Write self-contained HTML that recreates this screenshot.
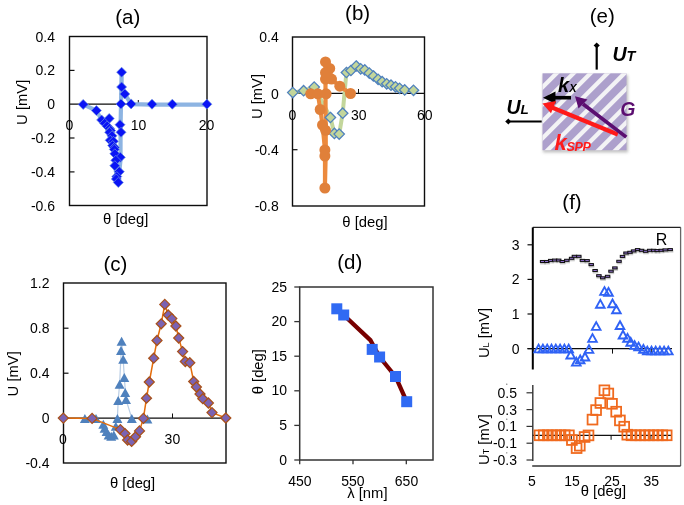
<!DOCTYPE html>
<html><head><meta charset="utf-8"><style>
html,body{margin:0;padding:0;background:#fff;}
svg{display:block;font-family:"Liberation Sans", sans-serif;}
text{opacity:0.999;}
</style></head><body>
<svg width="684" height="505" viewBox="0 0 684 505">
<rect width="684" height="505" fill="#fff"/>
<text x="127.7" y="23.5" font-size="20.5" text-anchor="middle" fill="#000">(a)</text>
<rect x="69.5" y="36.5" width="137.5" height="169" fill="none" stroke="#0d0d0d" stroke-width="1.4"/>
<line x1="69.5" y1="104.2" x2="207" y2="104.2" stroke="#0d0d0d" stroke-width="1.3"/>
<line x1="69.5" y1="70.4" x2="74.5" y2="70.4" stroke="#0d0d0d" stroke-width="1.2"/>
<line x1="69.5" y1="138" x2="74.5" y2="138" stroke="#0d0d0d" stroke-width="1.2"/>
<line x1="69.5" y1="171.9" x2="74.5" y2="171.9" stroke="#0d0d0d" stroke-width="1.2"/>
<line x1="138.3" y1="100" x2="138.3" y2="104.2" stroke="#0d0d0d" stroke-width="1"/>
<text x="55" y="41.5" font-size="14" text-anchor="end" fill="#000">0.4</text>
<text x="55" y="75.3" font-size="14" text-anchor="end" fill="#000">0.2</text>
<text x="55" y="109.1" font-size="14" text-anchor="end" fill="#000">0</text>
<text x="55" y="142.9" font-size="14" text-anchor="end" fill="#000">-0.2</text>
<text x="55" y="176.7" font-size="14" text-anchor="end" fill="#000">-0.4</text>
<text x="55" y="210.5" font-size="14" text-anchor="end" fill="#000">-0.6</text>
<text x="69.5" y="130" font-size="14" text-anchor="middle" fill="#000">0</text>
<text x="138.5" y="130" font-size="14" text-anchor="middle" fill="#000">10</text>
<text x="206.5" y="130" font-size="14" text-anchor="middle" fill="#000">20</text>
<text x="0" y="0" font-size="14.8" text-anchor="middle" dominant-baseline="central" transform="translate(21.8,102.3) rotate(-90)">U [mV]</text>
<text x="125.7" y="224" font-size="14.8" text-anchor="middle" fill="#000">θ [deg]</text>
<polyline points="83.2,104.4 96.4,110.6 101.6,119.9 104.7,123.3 107.1,126.1 109.6,128.5 110.6,130.6 112,135.8 113.4,141.3 114.3,149.4 114.8,153.8 115.8,160.3 114.8,165.7 116.8,176.6 118.3,182.5" fill="none" stroke="#8db4e2" stroke-width="4" stroke-linejoin="round" stroke-linecap="round" />
<polyline points="118.3,182.5 119.3,171.7 120.5,160 120.6,124.7 121,104 121.6,72.2 121.6,87 124.8,94 131.1,104.2 152,104.6 172.3,104.6 206.9,104.6" fill="none" stroke="#8db4e2" stroke-width="4.2" stroke-linejoin="round" stroke-linecap="round" />
<path d="M83.2 99.4L88.2 104.4L83.2 109.4L78.2 104.4Z" fill="#0a14f5" stroke="#6d8fe0" stroke-width="0.7"/>
<path d="M96.4 105.6L101.4 110.6L96.4 115.6L91.4 110.6Z" fill="#0a14f5" stroke="#6d8fe0" stroke-width="0.7"/>
<path d="M101.6 114.9L106.6 119.9L101.6 124.9L96.6 119.9Z" fill="#0a14f5" stroke="#6d8fe0" stroke-width="0.7"/>
<path d="M109.2 113.5L114.2 118.5L109.2 123.5L104.2 118.5Z" fill="#0a14f5" stroke="#6d8fe0" stroke-width="0.7"/>
<path d="M104.7 118.3L109.7 123.3L104.7 128.3L99.7 123.3Z" fill="#0a14f5" stroke="#6d8fe0" stroke-width="0.7"/>
<path d="M107.1 121.1L112.1 126.1L107.1 131.1L102.1 126.1Z" fill="#0a14f5" stroke="#6d8fe0" stroke-width="0.7"/>
<path d="M120 119.7L125 124.7L120 129.7L115 124.7Z" fill="#0a14f5" stroke="#6d8fe0" stroke-width="0.7"/>
<path d="M109.6 123.5L114.6 128.5L109.6 133.5L104.6 128.5Z" fill="#0a14f5" stroke="#6d8fe0" stroke-width="0.7"/>
<path d="M110.6 125.6L115.6 130.6L110.6 135.6L105.6 130.6Z" fill="#0a14f5" stroke="#6d8fe0" stroke-width="0.7"/>
<path d="M121 127.3L126 132.3L121 137.3L116 132.3Z" fill="#0a14f5" stroke="#6d8fe0" stroke-width="0.7"/>
<path d="M109.6 127.3L114.6 132.3L109.6 137.3L104.6 132.3Z" fill="#0a14f5" stroke="#6d8fe0" stroke-width="0.7"/>
<path d="M112 130.8L117 135.8L112 140.8L107 135.8Z" fill="#0a14f5" stroke="#6d8fe0" stroke-width="0.7"/>
<path d="M110.2 135.3L115.2 140.3L110.2 145.3L105.2 140.3Z" fill="#0a14f5" stroke="#6d8fe0" stroke-width="0.7"/>
<path d="M113.4 136.3L118.4 141.3L113.4 146.3L108.4 141.3Z" fill="#0a14f5" stroke="#6d8fe0" stroke-width="0.7"/>
<path d="M112.7 140.5L117.7 145.5L112.7 150.5L107.7 145.5Z" fill="#0a14f5" stroke="#6d8fe0" stroke-width="0.7"/>
<path d="M114.4 142.6L119.4 147.6L114.4 152.6L109.4 147.6Z" fill="#0a14f5" stroke="#6d8fe0" stroke-width="0.7"/>
<path d="M114.3 144.4L119.3 149.4L114.3 154.4L109.3 149.4Z" fill="#0a14f5" stroke="#6d8fe0" stroke-width="0.7"/>
<path d="M114.8 148.8L119.8 153.8L114.8 158.8L109.8 153.8Z" fill="#0a14f5" stroke="#6d8fe0" stroke-width="0.7"/>
<path d="M120.3 152.3L125.3 157.3L120.3 162.3L115.3 157.3Z" fill="#0a14f5" stroke="#6d8fe0" stroke-width="0.7"/>
<path d="M115.8 155.3L120.8 160.3L115.8 165.3L110.8 160.3Z" fill="#0a14f5" stroke="#6d8fe0" stroke-width="0.7"/>
<path d="M114.8 160.7L119.8 165.7L114.8 170.7L109.8 165.7Z" fill="#0a14f5" stroke="#6d8fe0" stroke-width="0.7"/>
<path d="M119.3 166.7L124.3 171.7L119.3 176.7L114.3 171.7Z" fill="#0a14f5" stroke="#6d8fe0" stroke-width="0.7"/>
<path d="M116.8 171.6L121.8 176.6L116.8 181.6L111.8 176.6Z" fill="#0a14f5" stroke="#6d8fe0" stroke-width="0.7"/>
<path d="M116.3 174L121.3 179L116.3 184L111.3 179Z" fill="#0a14f5" stroke="#6d8fe0" stroke-width="0.7"/>
<path d="M118.3 177.5L123.3 182.5L118.3 187.5L113.3 182.5Z" fill="#0a14f5" stroke="#6d8fe0" stroke-width="0.7"/>
<path d="M121.6 67.2L126.6 72.2L121.6 77.2L116.6 72.2Z" fill="#0a14f5" stroke="#6d8fe0" stroke-width="0.7"/>
<path d="M121.6 82L126.6 87L121.6 92L116.6 87Z" fill="#0a14f5" stroke="#6d8fe0" stroke-width="0.7"/>
<path d="M124.8 89L129.8 94L124.8 99L119.8 94Z" fill="#0a14f5" stroke="#6d8fe0" stroke-width="0.7"/>
<path d="M120.9 98.9L125.9 103.9L120.9 108.9L115.9 103.9Z" fill="#0a14f5" stroke="#6d8fe0" stroke-width="0.7"/>
<path d="M131.1 98.9L136.1 103.9L131.1 108.9L126.1 103.9Z" fill="#0a14f5" stroke="#6d8fe0" stroke-width="0.7"/>
<path d="M152 99.2L157 104.2L152 109.2L147 104.2Z" fill="#0a14f5" stroke="#6d8fe0" stroke-width="0.7"/>
<path d="M172.3 99.2L177.3 104.2L172.3 109.2L167.3 104.2Z" fill="#0a14f5" stroke="#6d8fe0" stroke-width="0.7"/>
<path d="M206.9 99.2L211.9 104.2L206.9 109.2L201.9 104.2Z" fill="#0a14f5" stroke="#6d8fe0" stroke-width="0.7"/>
<text x="357.6" y="19.5" font-size="20.5" text-anchor="middle" fill="#000">(b)</text>
<rect x="292.5" y="37" width="132" height="169" fill="none" stroke="#0d0d0d" stroke-width="1.4"/>
<line x1="292.5" y1="93.4" x2="424.5" y2="93.4" stroke="#0d0d0d" stroke-width="1.3"/>
<line x1="358.5" y1="89" x2="358.5" y2="93.4" stroke="#0d0d0d" stroke-width="1"/>
<line x1="292.5" y1="149.7" x2="297.5" y2="149.7" stroke="#0d0d0d" stroke-width="1.2"/>
<text x="278.8" y="42.3" font-size="14" text-anchor="end" fill="#000">0.4</text>
<text x="278.8" y="98.63" font-size="14" text-anchor="end" fill="#000">0</text>
<text x="278.8" y="154.96" font-size="14" text-anchor="end" fill="#000">-0.4</text>
<text x="278.8" y="211.29" font-size="14" text-anchor="end" fill="#000">-0.8</text>
<text x="292.5" y="119.6" font-size="14" text-anchor="middle" fill="#000">0</text>
<text x="358.8" y="119.6" font-size="14" text-anchor="middle" fill="#000">30</text>
<text x="424.8" y="119.6" font-size="14" text-anchor="middle" fill="#000">60</text>
<text x="0" y="0" font-size="14.8" text-anchor="middle" dominant-baseline="central" transform="translate(257.3,96.5) rotate(-90)">U [mV]</text>
<text x="365" y="226.5" font-size="14.8" text-anchor="middle" fill="#000">θ [deg]</text>
<polyline points="292.8,92.6 303.6,90.7 314.2,87.1 330.4,117.5 334.4,133.4 339.2,134.1 342.7,113.2 346.4,72.5 350.9,70.5 356.2,66 360.7,68.8 364.8,69.9 369.3,73.1 373.4,76 378.1,79.3 382.2,81.7 386.7,83.8 391,85.2 395.5,86.8 399.6,88.3 404.7,89.9 413.5,90.3" fill="none" stroke="#c3d69b" stroke-width="4" stroke-linejoin="round" stroke-linecap="round" />
<polyline points="310.7,93.8 326.1,93.8" fill="none" stroke="#ec8a3e" stroke-width="4" stroke-linejoin="round" stroke-linecap="round" />
<polyline points="317.8,93.8 320.2,109.5 322.5,125 324.9,150 324.9,188" fill="none" stroke="#ec8a3e" stroke-width="4" stroke-linejoin="round" stroke-linecap="round" />
<polyline points="324.9,188 325.8,150 325.5,93.8 325.5,61.9 329.7,68.4 331.5,79.1 339.8,86.2 350.5,93.5" fill="none" stroke="#ec8a3e" stroke-width="4.2" stroke-linejoin="round" stroke-linecap="round" />
<path d="M292.8 87.4L298.0 92.6L292.8 97.8L287.6 92.6Z" fill="#c3d69b" stroke="#4f81bd" stroke-width="1.3"/>
<path d="M303.6 85.5L308.8 90.7L303.6 95.9L298.4 90.7Z" fill="#c3d69b" stroke="#4f81bd" stroke-width="1.3"/>
<path d="M314.2 81.9L319.4 87.1L314.2 92.3L309.0 87.1Z" fill="#c3d69b" stroke="#4f81bd" stroke-width="1.3"/>
<path d="M330.4 112.3L335.6 117.5L330.4 122.7L325.2 117.5Z" fill="#c3d69b" stroke="#4f81bd" stroke-width="1.3"/>
<path d="M334.4 128.2L339.6 133.4L334.4 138.6L329.2 133.4Z" fill="#c3d69b" stroke="#4f81bd" stroke-width="1.3"/>
<path d="M339.2 128.9L344.4 134.1L339.2 139.3L334.0 134.1Z" fill="#c3d69b" stroke="#4f81bd" stroke-width="1.3"/>
<path d="M342.7 108.0L347.9 113.2L342.7 118.4L337.5 113.2Z" fill="#c3d69b" stroke="#4f81bd" stroke-width="1.3"/>
<path d="M346.4 67.3L351.6 72.5L346.4 77.7L341.2 72.5Z" fill="#c3d69b" stroke="#4f81bd" stroke-width="1.3"/>
<path d="M350.9 65.3L356.1 70.5L350.9 75.7L345.7 70.5Z" fill="#c3d69b" stroke="#4f81bd" stroke-width="1.3"/>
<path d="M356.2 60.8L361.4 66L356.2 71.2L351.0 66Z" fill="#c3d69b" stroke="#4f81bd" stroke-width="1.3"/>
<path d="M360.7 63.6L365.9 68.8L360.7 74.0L355.5 68.8Z" fill="#c3d69b" stroke="#4f81bd" stroke-width="1.3"/>
<path d="M364.8 64.7L370.0 69.9L364.8 75.1L359.6 69.9Z" fill="#c3d69b" stroke="#4f81bd" stroke-width="1.3"/>
<path d="M369.3 67.9L374.5 73.1L369.3 78.3L364.1 73.1Z" fill="#c3d69b" stroke="#4f81bd" stroke-width="1.3"/>
<path d="M373.4 70.8L378.6 76L373.4 81.2L368.2 76Z" fill="#c3d69b" stroke="#4f81bd" stroke-width="1.3"/>
<path d="M378.1 74.1L383.3 79.3L378.1 84.5L372.9 79.3Z" fill="#c3d69b" stroke="#4f81bd" stroke-width="1.3"/>
<path d="M382.2 76.5L387.4 81.7L382.2 86.9L377.0 81.7Z" fill="#c3d69b" stroke="#4f81bd" stroke-width="1.3"/>
<path d="M386.7 78.6L391.9 83.8L386.7 89.0L381.5 83.8Z" fill="#c3d69b" stroke="#4f81bd" stroke-width="1.3"/>
<path d="M391 80.0L396.2 85.2L391 90.4L385.8 85.2Z" fill="#c3d69b" stroke="#4f81bd" stroke-width="1.3"/>
<path d="M395.5 81.6L400.7 86.8L395.5 92.0L390.3 86.8Z" fill="#c3d69b" stroke="#4f81bd" stroke-width="1.3"/>
<path d="M399.6 83.1L404.8 88.3L399.6 93.5L394.4 88.3Z" fill="#c3d69b" stroke="#4f81bd" stroke-width="1.3"/>
<path d="M404.7 84.7L409.9 89.9L404.7 95.1L399.5 89.9Z" fill="#c3d69b" stroke="#4f81bd" stroke-width="1.3"/>
<path d="M413.5 85.1L418.7 90.3L413.5 95.5L408.3 90.3Z" fill="#c3d69b" stroke="#4f81bd" stroke-width="1.3"/>
<circle cx="310.7" cy="93.8" r="5.5" fill="#e0803a"/>
<circle cx="317.8" cy="93.8" r="5.5" fill="#e0803a"/>
<circle cx="326.1" cy="93.8" r="5.5" fill="#e0803a"/>
<circle cx="320.2" cy="109.5" r="5.5" fill="#e0803a"/>
<circle cx="322.5" cy="125" r="5.5" fill="#e0803a"/>
<circle cx="325.6" cy="130.3" r="5.5" fill="#e0803a"/>
<circle cx="324.9" cy="150" r="5.5" fill="#e0803a"/>
<circle cx="324.9" cy="156" r="5.5" fill="#e0803a"/>
<circle cx="324.9" cy="188" r="5.5" fill="#e0803a"/>
<circle cx="325.5" cy="79.1" r="5.5" fill="#e0803a"/>
<circle cx="331.5" cy="79.1" r="5.5" fill="#e0803a"/>
<circle cx="329.7" cy="68.4" r="5.5" fill="#e0803a"/>
<circle cx="325.5" cy="72.6" r="5.5" fill="#e0803a"/>
<circle cx="325.5" cy="61.9" r="5.5" fill="#e0803a"/>
<circle cx="339.8" cy="86.2" r="5.5" fill="#e0803a"/>
<circle cx="350.5" cy="93.5" r="5.5" fill="#e0803a"/>
<text x="115.5" y="271" font-size="20.5" text-anchor="middle" fill="#000">(c)</text>
<rect x="63.5" y="283" width="162.5" height="180" fill="none" stroke="#0d0d0d" stroke-width="1.4"/>
<line x1="63.5" y1="418.2" x2="226" y2="418.2" stroke="#0d0d0d" stroke-width="1.3"/>
<line x1="63.5" y1="328.2" x2="68.5" y2="328.2" stroke="#0d0d0d" stroke-width="1.2"/>
<line x1="63.5" y1="373.2" x2="68.5" y2="373.2" stroke="#0d0d0d" stroke-width="1.2"/>
<line x1="172.5" y1="413.5" x2="172.5" y2="418.2" stroke="#0d0d0d" stroke-width="1"/>
<text x="49.5" y="288" font-size="14" text-anchor="end" fill="#000">1.2</text>
<text x="49.5" y="333" font-size="14" text-anchor="end" fill="#000">0.8</text>
<text x="49.5" y="378" font-size="14" text-anchor="end" fill="#000">0.4</text>
<text x="49.5" y="423" font-size="14" text-anchor="end" fill="#000">0</text>
<text x="49.5" y="468" font-size="14" text-anchor="end" fill="#000">-0.4</text>
<text x="63" y="444.3" font-size="14" text-anchor="middle" fill="#000">0</text>
<text x="172.4" y="444.3" font-size="14" text-anchor="middle" fill="#000">30</text>
<text x="0" y="0" font-size="14.8" text-anchor="middle" dominant-baseline="central" transform="translate(13.3,373.8) rotate(-90)">U [mV]</text>
<text x="132.6" y="487.5" font-size="14.8" text-anchor="middle" fill="#000">θ [deg]</text>
<polyline points="117.4,418.4 118.2,400.4 119.6,384.3 121.6,341.3 123.2,359.3 124.3,377.4 126,399.5 131.8,418.4" fill="none" stroke="#b9cde5" stroke-width="1.2" stroke-linejoin="round" stroke-linecap="round" />
<path d="M84.9 413.9L89.9 422.9L79.9 422.9Z" fill="#4f81bd" stroke="none" stroke-width="0" stroke-linejoin="miter"/>
<path d="M96 413.9L101.0 422.9L91.0 422.9Z" fill="#4f81bd" stroke="none" stroke-width="0" stroke-linejoin="miter"/>
<path d="M103.3 419.8L108.3 428.8L98.3 428.8Z" fill="#4f81bd" stroke="none" stroke-width="0" stroke-linejoin="miter"/>
<path d="M104.6 423.8L109.6 432.8L99.6 432.8Z" fill="#4f81bd" stroke="none" stroke-width="0" stroke-linejoin="miter"/>
<path d="M106.6 427.1L111.6 436.1L101.6 436.1Z" fill="#4f81bd" stroke="none" stroke-width="0" stroke-linejoin="miter"/>
<path d="M108.6 430.4L113.6 439.4L103.6 439.4Z" fill="#4f81bd" stroke="none" stroke-width="0" stroke-linejoin="miter"/>
<path d="M111.2 431.7L116.2 440.7L106.2 440.7Z" fill="#4f81bd" stroke="none" stroke-width="0" stroke-linejoin="miter"/>
<path d="M113.8 430.4L118.8 439.4L108.8 439.4Z" fill="#4f81bd" stroke="none" stroke-width="0" stroke-linejoin="miter"/>
<path d="M115.8 421.8L120.8 430.8L110.8 430.8Z" fill="#4f81bd" stroke="none" stroke-width="0" stroke-linejoin="miter"/>
<path d="M117.4 413.9L122.4 422.9L112.4 422.9Z" fill="#4f81bd" stroke="none" stroke-width="0" stroke-linejoin="miter"/>
<path d="M118.2 395.9L123.2 404.9L113.2 404.9Z" fill="#4f81bd" stroke="none" stroke-width="0" stroke-linejoin="miter"/>
<path d="M119.6 379.8L124.6 388.8L114.6 388.8Z" fill="#4f81bd" stroke="none" stroke-width="0" stroke-linejoin="miter"/>
<path d="M121.6 336.8L126.6 345.8L116.6 345.8Z" fill="#4f81bd" stroke="none" stroke-width="0" stroke-linejoin="miter"/>
<path d="M121 346.0L126.0 355.0L116.0 355.0Z" fill="#4f81bd" stroke="none" stroke-width="0" stroke-linejoin="miter"/>
<path d="M123.2 354.8L128.2 363.8L118.2 363.8Z" fill="#4f81bd" stroke="none" stroke-width="0" stroke-linejoin="miter"/>
<path d="M124.3 372.9L129.3 381.9L119.3 381.9Z" fill="#4f81bd" stroke="none" stroke-width="0" stroke-linejoin="miter"/>
<path d="M125.2 388.1L130.2 397.1L120.2 397.1Z" fill="#4f81bd" stroke="none" stroke-width="0" stroke-linejoin="miter"/>
<path d="M126 395.0L131.0 404.0L121.0 404.0Z" fill="#4f81bd" stroke="none" stroke-width="0" stroke-linejoin="miter"/>
<path d="M131.8 413.9L136.8 422.9L126.8 422.9Z" fill="#4f81bd" stroke="none" stroke-width="0" stroke-linejoin="miter"/>
<path d="M147.4 414.5L152.4 423.5L142.4 423.5Z" fill="#4f81bd" stroke="none" stroke-width="0" stroke-linejoin="miter"/>
<polyline points="63.3,418.1 92.1,418.4 120.4,429.6 125,433.6 127.6,440 131.6,441.4 135.5,436.8 139.5,430.9 143.4,418.4 146.5,398.2 149.3,382 153.7,358.2 157,340.5 161.2,323.8 164.8,304.4 168.2,315 171.8,318.6 175.9,326 178.7,338 182.6,351.6 185.3,361.5 189.8,362.7 193.7,381.5 196.4,387 200,394 202.8,398.7 208.4,403 212,412.6 225.8,418" fill="none" stroke="#e46c0a" stroke-width="1.5" stroke-linejoin="round" stroke-linecap="round" />
<path d="M63.3 413.1L68.3 418.1L63.3 423.1L58.3 418.1Z" fill="#7b63b3" stroke="#a8501a" stroke-width="1.25"/>
<path d="M92.1 413.4L97.1 418.4L92.1 423.4L87.1 418.4Z" fill="#7b63b3" stroke="#a8501a" stroke-width="1.25"/>
<path d="M120.4 424.6L125.4 429.6L120.4 434.6L115.4 429.6Z" fill="#7b63b3" stroke="#a8501a" stroke-width="1.25"/>
<path d="M125 428.6L130.0 433.6L125 438.6L120.0 433.6Z" fill="#7b63b3" stroke="#a8501a" stroke-width="1.25"/>
<path d="M127.6 435.0L132.6 440L127.6 445.0L122.6 440Z" fill="#7b63b3" stroke="#a8501a" stroke-width="1.25"/>
<path d="M131.6 436.4L136.6 441.4L131.6 446.4L126.6 441.4Z" fill="#7b63b3" stroke="#a8501a" stroke-width="1.25"/>
<path d="M135.5 431.8L140.5 436.8L135.5 441.8L130.5 436.8Z" fill="#7b63b3" stroke="#a8501a" stroke-width="1.25"/>
<path d="M139.5 425.9L144.5 430.9L139.5 435.9L134.5 430.9Z" fill="#7b63b3" stroke="#a8501a" stroke-width="1.25"/>
<path d="M143.4 413.4L148.4 418.4L143.4 423.4L138.4 418.4Z" fill="#7b63b3" stroke="#a8501a" stroke-width="1.25"/>
<path d="M146.5 393.2L151.5 398.2L146.5 403.2L141.5 398.2Z" fill="#7b63b3" stroke="#a8501a" stroke-width="1.25"/>
<path d="M149.3 377.0L154.3 382L149.3 387.0L144.3 382Z" fill="#7b63b3" stroke="#a8501a" stroke-width="1.25"/>
<path d="M153.7 353.2L158.7 358.2L153.7 363.2L148.7 358.2Z" fill="#7b63b3" stroke="#a8501a" stroke-width="1.25"/>
<path d="M157 335.5L162.0 340.5L157 345.5L152.0 340.5Z" fill="#7b63b3" stroke="#a8501a" stroke-width="1.25"/>
<path d="M161.2 318.8L166.2 323.8L161.2 328.8L156.2 323.8Z" fill="#7b63b3" stroke="#a8501a" stroke-width="1.25"/>
<path d="M164.8 299.4L169.8 304.4L164.8 309.4L159.8 304.4Z" fill="#7b63b3" stroke="#a8501a" stroke-width="1.25"/>
<path d="M168.2 310.0L173.2 315L168.2 320.0L163.2 315Z" fill="#7b63b3" stroke="#a8501a" stroke-width="1.25"/>
<path d="M171.8 313.6L176.8 318.6L171.8 323.6L166.8 318.6Z" fill="#7b63b3" stroke="#a8501a" stroke-width="1.25"/>
<path d="M175.9 321.0L180.9 326L175.9 331.0L170.9 326Z" fill="#7b63b3" stroke="#a8501a" stroke-width="1.25"/>
<path d="M178.7 333.0L183.7 338L178.7 343.0L173.7 338Z" fill="#7b63b3" stroke="#a8501a" stroke-width="1.25"/>
<path d="M182.6 346.6L187.6 351.6L182.6 356.6L177.6 351.6Z" fill="#7b63b3" stroke="#a8501a" stroke-width="1.25"/>
<path d="M185.3 356.5L190.3 361.5L185.3 366.5L180.3 361.5Z" fill="#7b63b3" stroke="#a8501a" stroke-width="1.25"/>
<path d="M189.8 357.7L194.8 362.7L189.8 367.7L184.8 362.7Z" fill="#7b63b3" stroke="#a8501a" stroke-width="1.25"/>
<path d="M193.7 376.5L198.7 381.5L193.7 386.5L188.7 381.5Z" fill="#7b63b3" stroke="#a8501a" stroke-width="1.25"/>
<path d="M196.4 382.0L201.4 387L196.4 392.0L191.4 387Z" fill="#7b63b3" stroke="#a8501a" stroke-width="1.25"/>
<path d="M200 389.0L205.0 394L200 399.0L195.0 394Z" fill="#7b63b3" stroke="#a8501a" stroke-width="1.25"/>
<path d="M202.8 393.7L207.8 398.7L202.8 403.7L197.8 398.7Z" fill="#7b63b3" stroke="#a8501a" stroke-width="1.25"/>
<path d="M208.4 398.0L213.4 403L208.4 408.0L203.4 403Z" fill="#7b63b3" stroke="#a8501a" stroke-width="1.25"/>
<path d="M212 407.6L217.0 412.6L212 417.6L207.0 412.6Z" fill="#7b63b3" stroke="#a8501a" stroke-width="1.25"/>
<path d="M225.8 413.0L230.8 418L225.8 423.0L220.8 418Z" fill="#7b63b3" stroke="#a8501a" stroke-width="1.25"/>
<text x="349.8" y="269.2" font-size="20.5" text-anchor="middle" fill="#000">(d)</text>
<rect x="299.7" y="287" width="133.3" height="173" fill="none" stroke="#333" stroke-width="1.5"/>
<line x1="294.3" y1="460.0" x2="299.7" y2="460.0" stroke="#333" stroke-width="1.3"/>
<line x1="294.3" y1="425.4" x2="299.7" y2="425.4" stroke="#333" stroke-width="1.3"/>
<line x1="294.3" y1="390.8" x2="299.7" y2="390.8" stroke="#333" stroke-width="1.3"/>
<line x1="294.3" y1="356.2" x2="299.7" y2="356.2" stroke="#333" stroke-width="1.3"/>
<line x1="294.3" y1="321.6" x2="299.7" y2="321.6" stroke="#333" stroke-width="1.3"/>
<line x1="294.3" y1="287.0" x2="299.7" y2="287.0" stroke="#333" stroke-width="1.3"/>
<line x1="299.7" y1="460" x2="299.7" y2="464.3" stroke="#333" stroke-width="1.3"/>
<line x1="353" y1="460" x2="353" y2="464.3" stroke="#333" stroke-width="1.3"/>
<line x1="406.3" y1="460" x2="406.3" y2="464.3" stroke="#333" stroke-width="1.3"/>
<text x="287" y="464.6" font-size="14" text-anchor="end" fill="#000">0</text>
<text x="287" y="430.0" font-size="14" text-anchor="end" fill="#000">5</text>
<text x="287" y="395.4" font-size="14" text-anchor="end" fill="#000">10</text>
<text x="287" y="360.8" font-size="14" text-anchor="end" fill="#000">15</text>
<text x="287" y="326.2" font-size="14" text-anchor="end" fill="#000">20</text>
<text x="287" y="291.6" font-size="14" text-anchor="end" fill="#000">25</text>
<text x="299.9" y="485.8" font-size="14" text-anchor="middle" fill="#000">450</text>
<text x="352.9" y="485.8" font-size="14" text-anchor="middle" fill="#000">550</text>
<text x="406.5" y="485.8" font-size="14" text-anchor="middle" fill="#000">650</text>
<text x="0" y="0" font-size="14.8" text-anchor="middle" dominant-baseline="central" transform="translate(258,371.7) rotate(-90)">θ [deg]</text>
<text x="367.4" y="498.2" font-size="14.8" text-anchor="middle" fill="#000">λ [nm]</text>
<polyline points="343.7,315 370.6,340.4 379.6,357 395.5,376.5 406.7,401.7" fill="none" stroke="#780000" stroke-width="4.3" stroke-linejoin="round" stroke-linecap="round" />
<rect x="331.3" y="303.3" width="11" height="11" fill="#306af3" stroke="none" stroke-width="0"/>
<rect x="338.2" y="309.5" width="11" height="11" fill="#306af3" stroke="none" stroke-width="0"/>
<rect x="366.7" y="343.9" width="11" height="11" fill="#306af3" stroke="none" stroke-width="0"/>
<rect x="374.1" y="351.5" width="11" height="11" fill="#306af3" stroke="none" stroke-width="0"/>
<rect x="390.0" y="371.0" width="11" height="11" fill="#306af3" stroke="none" stroke-width="0"/>
<rect x="401.2" y="396.2" width="11" height="11" fill="#306af3" stroke="none" stroke-width="0"/>
<text x="602.2" y="22.5" font-size="20.5" text-anchor="middle" fill="#000">(e)</text>
<defs><clipPath id="sqc"><rect x="542.5" y="73.3" width="84" height="76.9"/></clipPath></defs>
<defs><filter id="blr" x="-20%" y="-20%" width="140%" height="140%"><feGaussianBlur stdDeviation="1.5"/></filter></defs>
<rect x="543" y="75" width="85" height="77.5" fill="#999" opacity="0.6" filter="url(#blr)"/>
<rect x="542.5" y="73.3" width="84" height="76.9" fill="#ada0cc"/>
<g clip-path="url(#sqc)" stroke="#f3f3f5" stroke-width="4.3"><line x1="501.8" y1="60" x2="401.8" y2="160" /><line x1="518.8" y1="60" x2="418.8" y2="160" /><line x1="535.8" y1="60" x2="435.8" y2="160" /><line x1="552.8" y1="60" x2="452.8" y2="160" /><line x1="569.8" y1="60" x2="469.8" y2="160" /><line x1="586.8" y1="60" x2="486.8" y2="160" /><line x1="603.8" y1="60" x2="503.8" y2="160" /><line x1="620.8" y1="60" x2="520.8" y2="160" /><line x1="637.8" y1="60" x2="537.8" y2="160" /><line x1="654.8" y1="60" x2="554.8" y2="160" /><line x1="671.8" y1="60" x2="571.8" y2="160" /><line x1="688.8" y1="60" x2="588.8" y2="160" /><line x1="705.8" y1="60" x2="605.8" y2="160" /><line x1="722.8" y1="60" x2="622.8" y2="160" /></g>
<line x1="596.7" y1="69.6" x2="596.7" y2="46" stroke="#000" stroke-width="2.2"/>
<path d="M596.7 42.6 L599.8 45.6 L596.7 48.2 L593.6 45.6Z" fill="#000"/>
<text x="612.5" y="61.3" font-size="19.5" font-weight="bold" font-style="italic">U<tspan font-size="14.5">T</tspan></text>
<line x1="541.7" y1="121.5" x2="508" y2="121.5" stroke="#000" stroke-width="2.1"/>
<path d="M505.2 121.5 L508.4 118.6 L511 121.5 L508.4 124.4Z" fill="#000"/>
<text x="506.5" y="113.7" font-size="19.5" font-weight="bold" font-style="italic">U<tspan font-size="13.5">L</tspan></text>
<line x1="571" y1="97.7" x2="554" y2="97.7" stroke="#000" stroke-width="3.6"/>
<path d="M543 97.7 L555.5 91.6 L555.5 103.8Z" fill="#000"/>
<text x="558" y="91.8" font-size="20" font-weight="bold" font-style="italic">k<tspan font-size="11">X</tspan></text>
<line x1="617.8" y1="134.5" x2="552" y2="107.5" stroke="#ff1a1a" stroke-width="4.2"/>
<path d="M542.4 103.5 L556 101 L551 113.3Z" fill="#ff1a1a"/>
<text x="554.5" y="150.3" font-size="22" font-weight="bold" font-style="italic" fill="#ff1a1a" letter-spacing="-0.3">k<tspan font-size="12.5" dy="0.8">SPP</tspan></text>
<line x1="626.3" y1="137.1" x2="583" y2="104" stroke="#5b0e70" stroke-width="3.7"/>
<path d="M575 96.3 L587.5 99.5 L578.5 108.5Z" fill="#5b0e70"/>
<text x="620.3" y="116" font-size="19.5" font-weight="bold" font-style="italic" fill="#5b0e70">G</text>
<text x="572" y="208.5" font-size="20.5" text-anchor="middle" fill="#000">(f)</text>
<path d="M680.6 466 L680.6 227.4" fill="none" stroke="#666" stroke-width="1.3"/>
<line x1="532.8" y1="227.4" x2="680.6" y2="227.4" stroke="#222" stroke-width="1.4"/>
<line x1="532.8" y1="227.4" x2="532.8" y2="369.5" stroke="#000" stroke-width="2"/>
<line x1="527.5" y1="348.6" x2="672" y2="348.6" stroke="#0d0d0d" stroke-width="1.3"/>
<line x1="527.5" y1="348.6" x2="532.8" y2="348.6" stroke="#0d0d0d" stroke-width="1.2"/>
<text x="519.5" y="353.6" font-size="14" text-anchor="end" fill="#000">0</text>
<line x1="527.5" y1="314.0" x2="532.8" y2="314.0" stroke="#0d0d0d" stroke-width="1.2"/>
<text x="519.5" y="319.0" font-size="14" text-anchor="end" fill="#000">1</text>
<line x1="527.5" y1="279.4" x2="532.8" y2="279.4" stroke="#0d0d0d" stroke-width="1.2"/>
<text x="519.5" y="284.4" font-size="14" text-anchor="end" fill="#000">2</text>
<line x1="527.5" y1="244.8" x2="532.8" y2="244.8" stroke="#0d0d0d" stroke-width="1.2"/>
<text x="519.5" y="249.8" font-size="14" text-anchor="end" fill="#000">3</text>
<line x1="612.5" y1="348.6" x2="612.5" y2="353.6" stroke="#0d0d0d" stroke-width="1"/>
<line x1="651.3" y1="348.6" x2="651.3" y2="353.6" stroke="#0d0d0d" stroke-width="1"/>
<text x="661.5" y="245" font-size="16" text-anchor="middle" fill="#000">R</text>
<text x="0" y="0" font-size="14.8" text-anchor="middle" dominant-baseline="central" transform="translate(483.5,333) rotate(-90)">U<tspan font-size="9" dy="2">L</tspan><tspan dy="-2"> [mV]</tspan></text>
<line x1="532.8" y1="385" x2="532.8" y2="461" stroke="#333" stroke-width="1.4"/>
<line x1="532.2" y1="466" x2="680.6" y2="466" stroke="#333" stroke-width="1.4"/>
<circle cx="506.8" cy="384.2" r="0.6" fill="#555"/>
<circle cx="506.8" cy="419.2" r="0.6" fill="#555"/>
<circle cx="506.8" cy="452.8" r="0.6" fill="#555"/>
<line x1="532.8" y1="435.3" x2="672" y2="435.3" stroke="#111" stroke-width="1.3"/>
<line x1="526.5" y1="392.8" x2="532.8" y2="392.8" stroke="#333" stroke-width="1.2"/>
<text x="517" y="397.8" font-size="14" text-anchor="end" fill="#000">0.5</text>
<line x1="526.5" y1="409.6" x2="532.8" y2="409.6" stroke="#333" stroke-width="1.2"/>
<text x="517" y="414.6" font-size="14" text-anchor="end" fill="#000">0.3</text>
<line x1="526.5" y1="426.4" x2="532.8" y2="426.4" stroke="#333" stroke-width="1.2"/>
<text x="517" y="431.4" font-size="14" text-anchor="end" fill="#000">0.1</text>
<line x1="526.5" y1="443.2" x2="532.8" y2="443.2" stroke="#333" stroke-width="1.2"/>
<text x="517" y="448.2" font-size="14" text-anchor="end" fill="#000">-0.1</text>
<line x1="526.5" y1="460.0" x2="532.8" y2="460.0" stroke="#333" stroke-width="1.2"/>
<text x="517" y="465.0" font-size="14" text-anchor="end" fill="#000">-0.3</text>
<line x1="571.3" y1="435.3" x2="571.3" y2="439.8" stroke="#0d0d0d" stroke-width="1"/>
<line x1="611.1" y1="435.3" x2="611.1" y2="439.8" stroke="#0d0d0d" stroke-width="1"/>
<line x1="650.9" y1="435.3" x2="650.9" y2="439.8" stroke="#0d0d0d" stroke-width="1"/>
<text x="0" y="0" font-size="14.8" text-anchor="middle" dominant-baseline="central" transform="translate(483.5,439.6) rotate(-90)">U<tspan font-size="9" dy="2">T</tspan><tspan dy="-2"> [mV]</tspan></text>
<text x="532" y="485.6" font-size="14" text-anchor="middle" fill="#000">5</text>
<text x="572" y="485.6" font-size="14" text-anchor="middle" fill="#000">15</text>
<text x="612" y="485.6" font-size="14" text-anchor="middle" fill="#000">25</text>
<text x="651.3" y="485.6" font-size="14" text-anchor="middle" fill="#000">35</text>
<text x="603.4" y="496" font-size="14.8" text-anchor="middle" fill="#000">θ [deg]</text>
<rect x="540.2" y="261.5" width="5.6" height="3" fill="#555" opacity="0.3"/>
<rect x="544.3" y="261.5" width="5.6" height="3" fill="#555" opacity="0.3"/>
<rect x="548.3" y="260.4" width="5.6" height="3" fill="#555" opacity="0.3"/>
<rect x="552.3" y="260.1" width="5.6" height="3" fill="#555" opacity="0.3"/>
<rect x="556.3" y="260.1" width="5.6" height="3" fill="#555" opacity="0.3"/>
<rect x="559.9" y="261.5" width="5.6" height="3" fill="#555" opacity="0.3"/>
<rect x="564.4" y="260.3" width="5.6" height="3" fill="#555" opacity="0.3"/>
<rect x="569.2" y="258.3" width="5.6" height="3" fill="#555" opacity="0.3"/>
<rect x="572.0" y="256.3" width="5.6" height="3" fill="#555" opacity="0.3"/>
<rect x="576.4" y="256.3" width="5.6" height="3" fill="#555" opacity="0.3"/>
<rect x="580.0" y="260.4" width="5.6" height="3" fill="#555" opacity="0.3"/>
<rect x="584.7" y="260.6" width="5.6" height="3" fill="#555" opacity="0.3"/>
<rect x="588.8" y="264.6" width="5.6" height="3" fill="#555" opacity="0.3"/>
<rect x="592.7" y="270.5" width="5.6" height="3" fill="#555" opacity="0.3"/>
<rect x="596.5" y="275.7" width="5.6" height="3" fill="#555" opacity="0.3"/>
<rect x="600.3" y="277.8" width="5.6" height="3" fill="#555" opacity="0.3"/>
<rect x="605.2" y="276.3" width="5.6" height="3" fill="#555" opacity="0.3"/>
<rect x="608.6" y="271.2" width="5.6" height="3" fill="#555" opacity="0.3"/>
<rect x="612.5" y="267.9" width="5.6" height="3" fill="#555" opacity="0.3"/>
<rect x="616.6" y="261.3" width="5.6" height="3" fill="#555" opacity="0.3"/>
<rect x="620.1" y="256.4" width="5.6" height="3" fill="#555" opacity="0.3"/>
<rect x="623.6" y="253.0" width="5.6" height="3" fill="#555" opacity="0.3"/>
<rect x="627.6" y="252.3" width="5.6" height="3" fill="#555" opacity="0.3"/>
<rect x="631.2" y="250.9" width="5.6" height="3" fill="#555" opacity="0.3"/>
<rect x="635.2" y="249.6" width="5.6" height="3" fill="#555" opacity="0.3"/>
<rect x="639.2" y="250.3" width="5.6" height="3" fill="#555" opacity="0.3"/>
<rect x="643.2" y="251.3" width="5.6" height="3" fill="#555" opacity="0.3"/>
<rect x="647.3" y="250.3" width="5.6" height="3" fill="#555" opacity="0.3"/>
<rect x="651.3" y="250.3" width="5.6" height="3" fill="#555" opacity="0.3"/>
<rect x="654.8" y="250.6" width="5.6" height="3" fill="#555" opacity="0.3"/>
<rect x="658.8" y="250.3" width="5.6" height="3" fill="#555" opacity="0.3"/>
<rect x="662.8" y="249.9" width="5.6" height="3" fill="#555" opacity="0.3"/>
<rect x="667.8" y="249.6" width="5.6" height="3" fill="#555" opacity="0.3"/>
<rect x="540.4" y="260.5" width="4.4" height="2" fill="#9774d8" stroke="#111" stroke-width="1.05"/>
<rect x="544.5" y="260.5" width="4.4" height="2" fill="#9774d8" stroke="#111" stroke-width="1.05"/>
<rect x="548.5" y="259.4" width="4.4" height="2" fill="#9774d8" stroke="#111" stroke-width="1.05"/>
<rect x="552.5" y="259.1" width="4.4" height="2" fill="#9774d8" stroke="#111" stroke-width="1.05"/>
<rect x="556.5" y="259.1" width="4.4" height="2" fill="#9774d8" stroke="#111" stroke-width="1.05"/>
<rect x="560.1" y="260.5" width="4.4" height="2" fill="#9774d8" stroke="#111" stroke-width="1.05"/>
<rect x="564.6" y="259.3" width="4.4" height="2" fill="#9774d8" stroke="#111" stroke-width="1.05"/>
<rect x="569.4" y="257.3" width="4.4" height="2" fill="#9774d8" stroke="#111" stroke-width="1.05"/>
<rect x="572.2" y="255.3" width="4.4" height="2" fill="#9774d8" stroke="#111" stroke-width="1.05"/>
<rect x="576.6" y="255.3" width="4.4" height="2" fill="#9774d8" stroke="#111" stroke-width="1.05"/>
<rect x="580.2" y="259.4" width="4.4" height="2" fill="#9774d8" stroke="#111" stroke-width="1.05"/>
<rect x="584.9" y="259.6" width="4.4" height="2" fill="#9774d8" stroke="#111" stroke-width="1.05"/>
<rect x="589.0" y="263.6" width="4.4" height="2" fill="#9774d8" stroke="#111" stroke-width="1.05"/>
<rect x="592.9" y="269.5" width="4.4" height="2" fill="#9774d8" stroke="#111" stroke-width="1.05"/>
<rect x="596.7" y="274.7" width="4.4" height="2" fill="#9774d8" stroke="#111" stroke-width="1.05"/>
<rect x="600.5" y="276.8" width="4.4" height="2" fill="#9774d8" stroke="#111" stroke-width="1.05"/>
<rect x="605.4" y="275.3" width="4.4" height="2" fill="#9774d8" stroke="#111" stroke-width="1.05"/>
<rect x="608.8" y="270.2" width="4.4" height="2" fill="#9774d8" stroke="#111" stroke-width="1.05"/>
<rect x="612.7" y="266.9" width="4.4" height="2" fill="#9774d8" stroke="#111" stroke-width="1.05"/>
<rect x="616.8" y="260.3" width="4.4" height="2" fill="#9774d8" stroke="#111" stroke-width="1.05"/>
<rect x="620.3" y="255.4" width="4.4" height="2" fill="#9774d8" stroke="#111" stroke-width="1.05"/>
<rect x="623.8" y="252" width="4.4" height="2" fill="#9774d8" stroke="#111" stroke-width="1.05"/>
<rect x="627.8" y="251.3" width="4.4" height="2" fill="#9774d8" stroke="#111" stroke-width="1.05"/>
<rect x="631.4" y="249.9" width="4.4" height="2" fill="#9774d8" stroke="#111" stroke-width="1.05"/>
<rect x="635.4" y="248.6" width="4.4" height="2" fill="#9774d8" stroke="#111" stroke-width="1.05"/>
<rect x="639.4" y="249.3" width="4.4" height="2" fill="#9774d8" stroke="#111" stroke-width="1.05"/>
<rect x="643.4" y="250.3" width="4.4" height="2" fill="#9774d8" stroke="#111" stroke-width="1.05"/>
<rect x="647.5" y="249.3" width="4.4" height="2" fill="#9774d8" stroke="#111" stroke-width="1.05"/>
<rect x="651.5" y="249.3" width="4.4" height="2" fill="#9774d8" stroke="#111" stroke-width="1.05"/>
<rect x="655.0" y="249.6" width="4.4" height="2" fill="#9774d8" stroke="#111" stroke-width="1.05"/>
<rect x="659.0" y="249.3" width="4.4" height="2" fill="#9774d8" stroke="#111" stroke-width="1.05"/>
<rect x="663.0" y="248.9" width="4.4" height="2" fill="#9774d8" stroke="#111" stroke-width="1.05"/>
<rect x="668.0" y="248.6" width="4.4" height="2" fill="#9774d8" stroke="#111" stroke-width="1.05"/>
<path d="M538.6 344.6L542.9 352.4L534.3 352.4Z" fill="none" stroke="#2f62f5" stroke-width="1.9" stroke-linejoin="miter"/>
<path d="M542.9 344.6L547.2 352.4L538.6 352.4Z" fill="none" stroke="#2f62f5" stroke-width="1.9" stroke-linejoin="miter"/>
<path d="M547.2 344.6L551.5 352.4L542.9 352.4Z" fill="none" stroke="#2f62f5" stroke-width="1.9" stroke-linejoin="miter"/>
<path d="M551.5 344.6L555.8 352.4L547.2 352.4Z" fill="none" stroke="#2f62f5" stroke-width="1.9" stroke-linejoin="miter"/>
<path d="M555.8 344.6L560.1 352.4L551.5 352.4Z" fill="none" stroke="#2f62f5" stroke-width="1.9" stroke-linejoin="miter"/>
<path d="M560.1 344.6L564.4 352.4L555.8 352.4Z" fill="none" stroke="#2f62f5" stroke-width="1.9" stroke-linejoin="miter"/>
<path d="M564.4 344.6L568.7 352.4L560.1 352.4Z" fill="none" stroke="#2f62f5" stroke-width="1.9" stroke-linejoin="miter"/>
<path d="M568.7 344.6L573.0 352.4L564.4 352.4Z" fill="none" stroke="#2f62f5" stroke-width="1.9" stroke-linejoin="miter"/>
<path d="M570.7 350.7L575.0 358.5L566.4 358.5Z" fill="none" stroke="#2f62f5" stroke-width="1.9" stroke-linejoin="miter"/>
<path d="M576.3 357.8L580.6 365.6L572.0 365.6Z" fill="none" stroke="#2f62f5" stroke-width="1.9" stroke-linejoin="miter"/>
<path d="M580.2 355.5L584.5 363.3L575.9 363.3Z" fill="none" stroke="#2f62f5" stroke-width="1.9" stroke-linejoin="miter"/>
<path d="M585 352.7L589.3 360.5L580.7 360.5Z" fill="none" stroke="#2f62f5" stroke-width="1.9" stroke-linejoin="miter"/>
<path d="M589 345.1L593.3 352.9L584.7 352.9Z" fill="none" stroke="#2f62f5" stroke-width="1.9" stroke-linejoin="miter"/>
<path d="M592.5 334.1L596.8 341.9L588.2 341.9Z" fill="none" stroke="#2f62f5" stroke-width="1.9" stroke-linejoin="miter"/>
<path d="M596.2 322.1L600.5 329.9L591.9 329.9Z" fill="none" stroke="#2f62f5" stroke-width="1.9" stroke-linejoin="miter"/>
<path d="M600.3 299.9L604.6 307.7L596.0 307.7Z" fill="none" stroke="#2f62f5" stroke-width="1.9" stroke-linejoin="miter"/>
<path d="M604.5 287.1L608.8 294.9L600.2 294.9Z" fill="none" stroke="#2f62f5" stroke-width="1.9" stroke-linejoin="miter"/>
<path d="M608.5 288.0L612.8 295.8L604.2 295.8Z" fill="none" stroke="#2f62f5" stroke-width="1.9" stroke-linejoin="miter"/>
<path d="M612.5 299.5L616.8 307.3L608.2 307.3Z" fill="none" stroke="#2f62f5" stroke-width="1.9" stroke-linejoin="miter"/>
<path d="M616.4 305.4L620.7 313.2L612.1 313.2Z" fill="none" stroke="#2f62f5" stroke-width="1.9" stroke-linejoin="miter"/>
<path d="M620 321.2L624.3 329.0L615.7 329.0Z" fill="none" stroke="#2f62f5" stroke-width="1.9" stroke-linejoin="miter"/>
<path d="M623 330.7L627.3 338.5L618.7 338.5Z" fill="none" stroke="#2f62f5" stroke-width="1.9" stroke-linejoin="miter"/>
<path d="M627.5 333.9L631.8 341.7L623.2 341.7Z" fill="none" stroke="#2f62f5" stroke-width="1.9" stroke-linejoin="miter"/>
<path d="M630.7 337.9L635.0 345.7L626.4 345.7Z" fill="none" stroke="#2f62f5" stroke-width="1.9" stroke-linejoin="miter"/>
<path d="M634.6 341.1L638.9 348.9L630.3 348.9Z" fill="none" stroke="#2f62f5" stroke-width="1.9" stroke-linejoin="miter"/>
<path d="M638.6 342.6L642.9 350.4L634.3 350.4Z" fill="none" stroke="#2f62f5" stroke-width="1.9" stroke-linejoin="miter"/>
<path d="M643.4 345.0L647.7 352.8L639.1 352.8Z" fill="none" stroke="#2f62f5" stroke-width="1.9" stroke-linejoin="miter"/>
<path d="M647.3 346.6L651.6 354.4L643.0 354.4Z" fill="none" stroke="#2f62f5" stroke-width="1.9" stroke-linejoin="miter"/>
<path d="M651.5 346.6L655.8 354.4L647.2 354.4Z" fill="none" stroke="#2f62f5" stroke-width="1.9" stroke-linejoin="miter"/>
<path d="M655.7 346.6L660.0 354.4L651.4 354.4Z" fill="none" stroke="#2f62f5" stroke-width="1.9" stroke-linejoin="miter"/>
<path d="M659.9 346.6L664.2 354.4L655.6 354.4Z" fill="none" stroke="#2f62f5" stroke-width="1.9" stroke-linejoin="miter"/>
<path d="M664.1 346.6L668.4 354.4L659.8 354.4Z" fill="none" stroke="#2f62f5" stroke-width="1.9" stroke-linejoin="miter"/>
<path d="M668.3 346.6L672.6 354.4L664.0 354.4Z" fill="none" stroke="#2f62f5" stroke-width="1.9" stroke-linejoin="miter"/>
<rect x="534.6" y="430.4" width="9.8" height="9.8" fill="none" stroke="#f06a1e" stroke-width="1.8"/>
<rect x="538.8" y="430.4" width="9.8" height="9.8" fill="none" stroke="#f06a1e" stroke-width="1.8"/>
<rect x="543.0" y="430.4" width="9.8" height="9.8" fill="none" stroke="#f06a1e" stroke-width="1.8"/>
<rect x="547.2" y="430.4" width="9.8" height="9.8" fill="none" stroke="#f06a1e" stroke-width="1.8"/>
<rect x="551.4" y="430.4" width="9.8" height="9.8" fill="none" stroke="#f06a1e" stroke-width="1.8"/>
<rect x="555.6" y="430.4" width="9.8" height="9.8" fill="none" stroke="#f06a1e" stroke-width="1.8"/>
<rect x="559.8" y="430.4" width="9.8" height="9.8" fill="none" stroke="#f06a1e" stroke-width="1.8"/>
<rect x="564.0" y="430.4" width="9.8" height="9.8" fill="none" stroke="#f06a1e" stroke-width="1.8"/>
<rect x="567.0" y="435.1" width="9.8" height="9.8" fill="none" stroke="#f06a1e" stroke-width="1.8"/>
<rect x="571.7" y="443.2" width="9.8" height="9.8" fill="none" stroke="#f06a1e" stroke-width="1.8"/>
<rect x="574.9" y="440.8" width="9.8" height="9.8" fill="none" stroke="#f06a1e" stroke-width="1.8"/>
<rect x="579.7" y="432.1" width="9.8" height="9.8" fill="none" stroke="#f06a1e" stroke-width="1.8"/>
<rect x="583.6" y="430.5" width="9.8" height="9.8" fill="none" stroke="#f06a1e" stroke-width="1.8"/>
<rect x="587.6" y="414.7" width="9.8" height="9.8" fill="none" stroke="#f06a1e" stroke-width="1.8"/>
<rect x="591.2" y="405.2" width="9.8" height="9.8" fill="none" stroke="#f06a1e" stroke-width="1.8"/>
<rect x="595.5" y="398.1" width="9.8" height="9.8" fill="none" stroke="#f06a1e" stroke-width="1.8"/>
<rect x="599.5" y="385.4" width="9.8" height="9.8" fill="none" stroke="#f06a1e" stroke-width="1.8"/>
<rect x="603.4" y="388.6" width="9.8" height="9.8" fill="none" stroke="#f06a1e" stroke-width="1.8"/>
<rect x="607.1" y="398.9" width="9.8" height="9.8" fill="none" stroke="#f06a1e" stroke-width="1.8"/>
<rect x="611.3" y="406.8" width="9.8" height="9.8" fill="none" stroke="#f06a1e" stroke-width="1.8"/>
<rect x="615.0" y="415.5" width="9.8" height="9.8" fill="none" stroke="#f06a1e" stroke-width="1.8"/>
<rect x="619.3" y="421.8" width="9.8" height="9.8" fill="none" stroke="#f06a1e" stroke-width="1.8"/>
<rect x="622.4" y="429.8" width="9.8" height="9.8" fill="none" stroke="#f06a1e" stroke-width="1.8"/>
<rect x="626.6" y="430.4" width="9.8" height="9.8" fill="none" stroke="#f06a1e" stroke-width="1.8"/>
<rect x="631.0" y="430.4" width="9.8" height="9.8" fill="none" stroke="#f06a1e" stroke-width="1.8"/>
<rect x="635.4" y="430.4" width="9.8" height="9.8" fill="none" stroke="#f06a1e" stroke-width="1.8"/>
<rect x="639.8" y="430.4" width="9.8" height="9.8" fill="none" stroke="#f06a1e" stroke-width="1.8"/>
<rect x="644.2" y="430.4" width="9.8" height="9.8" fill="none" stroke="#f06a1e" stroke-width="1.8"/>
<rect x="648.6" y="430.4" width="9.8" height="9.8" fill="none" stroke="#f06a1e" stroke-width="1.8"/>
<rect x="653.0" y="430.4" width="9.8" height="9.8" fill="none" stroke="#f06a1e" stroke-width="1.8"/>
<rect x="657.4" y="430.4" width="9.8" height="9.8" fill="none" stroke="#f06a1e" stroke-width="1.8"/>
<rect x="661.8" y="430.4" width="9.8" height="9.8" fill="none" stroke="#f06a1e" stroke-width="1.8"/>
</svg></body></html>
